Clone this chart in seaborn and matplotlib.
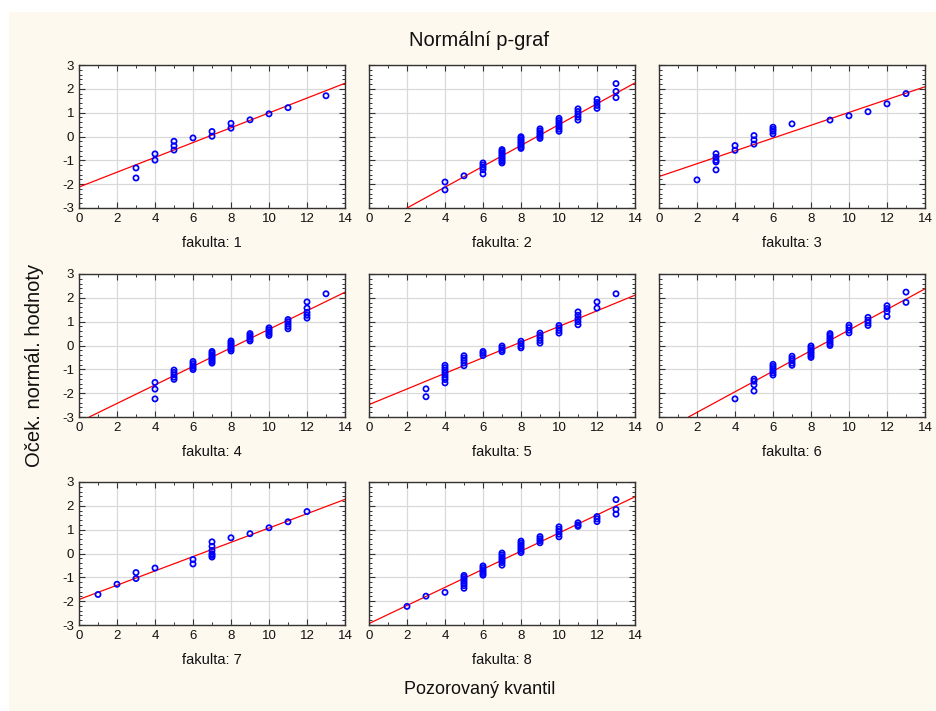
import numpy as np
import pandas as pd
import matplotlib
matplotlib.use("Agg")
import matplotlib.pyplot as plt
from matplotlib.ticker import MultipleLocator
import seaborn as sns

# ---------------- data ----------------
faculties = [1, 2, 3, 4, 5, 6, 7, 8]

f1_x = [3, 3, 4, 4, 5, 5, 5, 6, 7, 7, 8, 8, 9, 10, 11, 13]
f1_y = [-1.32, -1.74, -0.73, -0.99, -0.20, -0.39, -0.57, -0.06, 0.21, 0.01, 0.55, 0.35, 0.70, 0.95, 1.21, 1.71]

f2_x = [4, 4, 5] + [6]*5 + [7]*9 + [8]*8 + [9]*6 + [10]*7 + [11]*5 + [12]*4 + [13]*3
f2_y = [-1.91, -2.24, -1.65,
        -1.11, -1.20, -1.29, -1.39, -1.57,
        -0.55, -0.62, -0.69, -0.76, -0.83, -0.90, -0.97, -1.04, -1.11,
        -0.01, -0.08, -0.15, -0.22, -0.29, -0.36, -0.43, -0.50,
        0.32, 0.24, 0.16, 0.08, 0.00, -0.08,
        0.76, 0.67, 0.58, 0.49, 0.40, 0.31, 0.22,
        1.16, 1.05, 0.93, 0.81, 0.69,
        1.56, 1.43, 1.30, 1.18,
        2.22, 1.89, 1.63]

f3_x = [2] + [3]*5 + [4]*2 + [5]*3 + [6]*4 + [7, 9, 10, 11, 12, 13]
f3_y = [-1.82,
        -0.72, -0.87, -1.00, -1.07, -1.40,
        -0.38, -0.58,
        0.04, -0.14, -0.32,
        0.39, 0.30, 0.22, 0.11,
        0.53, 0.69, 0.87, 1.04, 1.37, 1.80]

f4_x = [4]*3 + [5]*5 + [6]*5 + [7]*8 + [8]*7 + [9]*5 + [10]*5 + [11]*5 + [12]*5 + [13]
f4_y = [-1.55, -1.83, -2.24,
        -1.03, -1.13, -1.23, -1.33, -1.42,
        -0.67, -0.76, -0.85, -0.93, -1.01,
        -0.25, -0.32, -0.39, -0.46, -0.53, -0.60, -0.67, -0.74,
        0.19, 0.12, 0.05, -0.02, -0.09, -0.16, -0.23,
        0.50, 0.42, 0.34, 0.26, 0.19,
        0.74, 0.66, 0.58, 0.50, 0.42,
        1.09, 1.00, 0.90, 0.80, 0.70,
        1.83, 1.57, 1.39, 1.27, 1.15,
        2.17]

f5_x = [3]*2 + [4]*8 + [5]*5 + [6]*3 + [7]*4 + [8]*4 + [9]*5 + [10]*4 + [11]*5 + [12]*2 + [13]
f5_y = [-1.82, -2.15,
        -0.83, -0.93, -1.03, -1.13, -1.23, -1.33, -1.43, -1.57,
        -0.43, -0.53, -0.63, -0.73, -0.85,
        -0.25, -0.33, -0.42,
        -0.02, -0.10, -0.18, -0.26,
        0.18, 0.08, -0.02, -0.10,
        0.52, 0.42, 0.32, 0.21, 0.10,
        0.84, 0.74, 0.63, 0.52,
        1.41, 1.27, 1.13, 1.00, 0.87,
        1.83, 1.57,
        2.17]

f6_x = [4] + [5]*4 + [6]*6 + [7]*5 + [8]*7 + [9]*7 + [10]*4 + [11]*4 + [12]*4 + [13]*2
f6_y = [-2.24,
        -1.41, -1.50, -1.65, -1.91,
        -0.79, -0.88, -0.97, -1.06, -1.15, -1.24,
        -0.45, -0.55, -0.64, -0.74, -0.83,
        -0.02, -0.10, -0.18, -0.26, -0.34, -0.42, -0.50,
        0.50, 0.42, 0.33, 0.25, 0.17, 0.08, 0.00,
        0.85, 0.75, 0.64, 0.53,
        1.18, 1.06, 0.95, 0.84,
        1.67, 1.55, 1.43, 1.22,
        2.24, 1.81]

f7_x = [1, 2, 3, 3, 4, 6, 6] + [7]*6 + [8, 9, 10, 11, 12]
f7_y = [-1.72, -1.29, -0.80, -1.05, -0.61, -0.25, -0.44,
        0.49, 0.30, 0.13, -0.01, -0.08, -0.15,
        0.66, 0.83, 1.08, 1.33, 1.76]

f8_x = [2, 3, 4] + [5]*7 + [6]*6 + [7]*7 + [8]*7 + [9]*4 + [10]*5 + [11]*3 + [12]*3 + [13]*3
f8_y = [-2.22, -1.79, -1.63,
        -0.92, -1.00, -1.08, -1.17, -1.26, -1.35, -1.46,
        -0.52, -0.60, -0.68, -0.76, -0.84, -0.91,
        0.02, -0.06, -0.14, -0.22, -0.30, -0.38, -0.49,
        0.52, 0.44, 0.36, 0.28, 0.20, 0.12, 0.04,
        0.71, 0.62, 0.54, 0.45,
        1.12, 1.02, 0.92, 0.81, 0.70,
        1.29, 1.20, 1.14,
        1.55, 1.45, 1.34,
        2.26, 1.85, 1.65]

# fitted reference lines (intercept, slope)
line_intercepts = [-2.12, -3.875, -1.68, -3.21, -2.48, -3.67, -1.93, -2.94]
line_slopes = [0.311, 0.4375, 0.269, 0.389, 0.328, 0.432, 0.300, 0.380]

xs = [f1_x, f2_x, f3_x, f4_x, f5_x, f6_x, f7_x, f8_x]
ys = [f1_y, f2_y, f3_y, f4_y, f5_y, f6_y, f7_y, f8_y]

frames = []
for fac, x, y in zip(faculties, xs, ys):
    frames.append(pd.DataFrame({"fakulta": fac, "kvantil": x, "ocek": y}))
df = pd.concat(frames, ignore_index=True)

# ---------------- style ----------------
sns.set_style("white")
plt.rcParams["font.family"] = ["Liberation Sans", "DejaVu Sans"]
plt.rcParams["axes.unicode_minus"] = False

W, H = 936, 711
fig = plt.figure(figsize=(W / 100, H / 100), dpi=100, facecolor="white")
bg = "#FEF9EE"
fig.patches.append(plt.Rectangle((9 / W, 0), 1 - 9 / W, 1 - 12 / H,
                                 transform=fig.transFigure, facecolor=bg,
                                 edgecolor="none", zorder=-10))

col_left = [79, 369, 659]
row_top = [65, 274, 482]
aw, ah = 266, 143

for i, fac in enumerate(faculties):
    r, c = divmod(i, 3)
    left = col_left[c] / W
    bottom = 1 - (row_top[r] + ah) / H
    ax = fig.add_axes([left, bottom, aw / W, ah / H])
    ax.set_facecolor("white")
    sub = df[df["fakulta"] == fac]
    ax.axline((0, line_intercepts[i]), slope=line_slopes[i], color="#FF0000",
              lw=0.9, zorder=2)
    sns.scatterplot(data=sub, x="kvantil", y="ocek", ax=ax, marker="o",
                    s=14, facecolor="none", edgecolor="#0000FF",
                    linewidth=1.25, zorder=3, legend=False)
    ax.set_xlim(0, 14)
    ax.set_ylim(-3, 3)
    ax.xaxis.set_major_locator(MultipleLocator(2))
    ax.xaxis.set_minor_locator(MultipleLocator(1))
    ax.yaxis.set_major_locator(MultipleLocator(1))
    ax.yaxis.set_minor_locator(MultipleLocator(0.2))
    ax.grid(True, which="major", color="#D9D9D9", lw=0.9)
    ax.set_axisbelow(True)
    ax.tick_params(which="both", direction="in", top=True, right=True,
                   left=True, bottom=True, color="#333333", labelsize=9.5,
                   labelcolor="#111111")
    ax.tick_params(which="major", length=4, width=0.8, pad=3.5)
    ax.tick_params(which="minor", length=2.5, width=0.7)
    for sp in ax.spines.values():
        sp.set_color("#333333")
        sp.set_linewidth(1.0)
    ax.set_xlabel("")
    ax.set_ylabel("")
    if c != 0:
        ax.set_yticklabels([])
    ax.set_title(f"fakulta: {fac}", y=-0.33, fontsize=10.5, color="#111111")

fig.text(479 / W, 1 - 40 / H, "Normální p-graf", ha="center", va="center",
         fontsize=14.5, color="#111111")
fig.text(35 / W, 1 - 365 / H, "Oček. normál. hodnoty", ha="center",
         va="center", rotation=90, fontsize=14.5, color="#111111")
fig.text(480 / W, 1 - 690 / H, "Pozorovaný kvantil", ha="center",
         va="center", fontsize=13, color="#111111")

fig.savefig("out.png", dpi=100, facecolor=fig.get_facecolor())
